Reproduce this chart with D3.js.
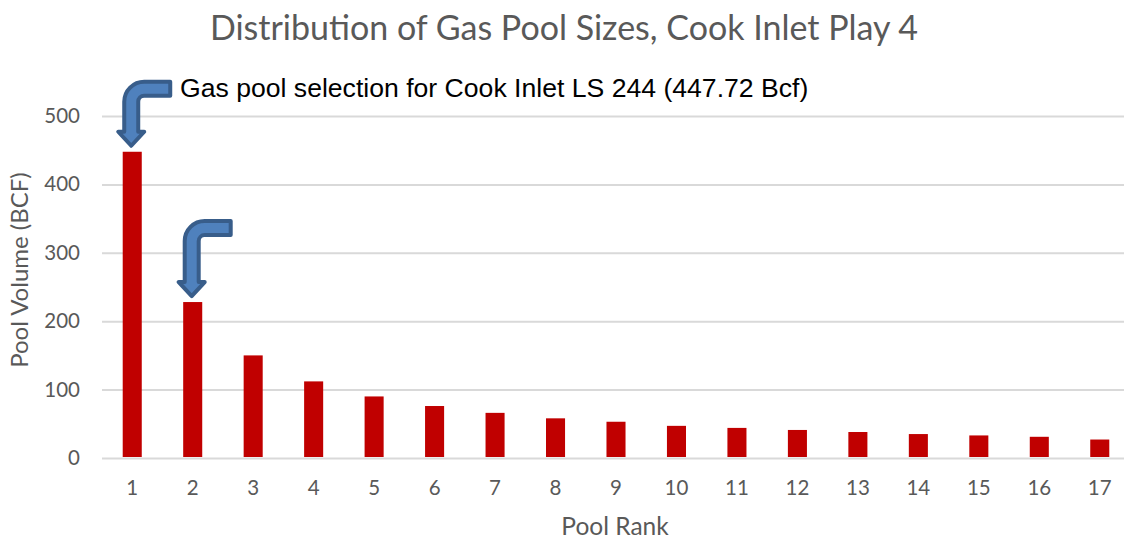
<!DOCTYPE html>
<html>
<head>
<meta charset="utf-8">
<style>
  html, body { margin: 0; padding: 0; background: #fff; overflow: hidden; }
  text { font-family: Lato, "Open Sans", sans-serif; fill: #595959; }
</style>
<script src="https://cdn.jsdelivr.net/npm/d3@7"></script>
</head>
<body>
<div id="chart"></div>
<script>
const ranks = [1, 2, 3, 4, 5, 6, 7, 8, 9, 10, 11, 12, 13, 14, 15, 16, 17];
const volumes = [447.72, 228, 150, 112, 90, 76, 66, 58, 53, 47, 44, 41, 38, 35, 33, 31, 27];
const yTicks = [0, 100, 200, 300, 400, 500];
const arrowRanks = [1, 2];

const width = 1124, height = 539;
const margin = { top: 116, right: -6, bottom: 81, left: 102 };
const innerW = width - margin.left - margin.right;
const innerH = height - margin.top - margin.bottom;

const svg = d3.select('#chart').append('svg')
  .attr('width', width)
  .attr('height', height)
  .style('display', 'block');

const g = svg.append('g')
  .attr('transform', `translate(${margin.left},${margin.top})`);

const x = d3.scaleBand().domain(ranks).range([0, innerW]).paddingInner(0.685).paddingOuter(0.3425);
const y = d3.scaleLinear().domain([0, 500]).range([innerH, 0]);

// gridlines
g.append('g')
  .call(d3.axisLeft(y).tickValues(yTicks).tickSize(-innerW).tickFormat(''))
  .call(s => s.select('.domain').remove())
  .selectAll('line')
  .attr('stroke', '#D9D9D9')
  .attr('stroke-width', 2);

g.selectAll('rect.bar')
  .data(volumes)
  .enter()
  .append('rect')
  .attr('class', 'bar')
  .attr('x', (d, i) => x(ranks[i]))
  .attr('y', d => y(d))
  .attr('width', x.bandwidth())
  .attr('height', d => y(0) - y(d) - 1)
  .attr('fill', '#C00000');

// y tick labels
g.append('g')
  .call(d3.axisLeft(y).tickValues(yTicks).tickSize(0).tickPadding(22))
  .call(s => s.select('.domain').remove())
  .selectAll('text')
  .style('font-size', '20.5px');

// x tick labels
g.append('g')
  .attr('transform', `translate(0,${innerH})`)
  .call(d3.axisBottom(x).tickSize(0).tickPadding(22))
  .call(s => s.select('.domain').remove())
  .selectAll('text')
  .style('font-size', '20.5px');

svg.append('text')
  .attr('x', 564).attr('y', 40)
  .attr('text-anchor', 'middle')
  .style('font-size', '34px')
  .text('Distribution of Gas Pool Sizes, Cook Inlet Play 4');

svg.append('text')
  .attr('x', 615).attr('y', 535)
  .attr('text-anchor', 'middle')
  .style('font-size', '24.5px')
  .text('Pool Rank');

svg.append('text')
  .attr('transform', 'translate(28,270) rotate(-90)')
  .attr('text-anchor', 'middle')
  .style('font-size', '24px')
  .text('Pool Volume (BCF)');

svg.append('text')
  .attr('x', 180).attr('y', 97)
  .style('font-family', '"Liberation Sans", Arial, sans-serif')
  .style('font-size', '26.6px')
  .style('fill', '#000')
  .text('Gas pool selection for Cook Inlet LS 244 (447.72 Bcf)');

// bent arrow, drawn relative to its tip just above the bar
function arrowPath(reach, rise) {
  return `M0,0 L-13,-14 L-7,-14 L-7,${-rise + 20} A20,20 0 0 1 13,${-rise}
    L${reach},${-rise} L${reach},${-rise + 14} L13,${-rise + 14}
    A6,6 0 0 0 7,${-rise + 20} L7,-14 L13,-14 Z`;
}

g.selectAll('path.arrow')
  .data(arrowRanks)
  .enter()
  .append('path')
  .attr('class', 'arrow')
  .attr('transform', d => `translate(${x(d) + x.bandwidth() / 2 - 1},${y(volumes[d - 1]) - 6})`)
  .attr('d', d => d === 1 ? arrowPath(39, 64) : arrowPath(39, 75))
  .attr('fill', '#4F81BD')
  .attr('stroke', '#385D8A')
  .attr('stroke-width', 4)
  .attr('stroke-linejoin', 'round');
</script>
</body>
</html>
